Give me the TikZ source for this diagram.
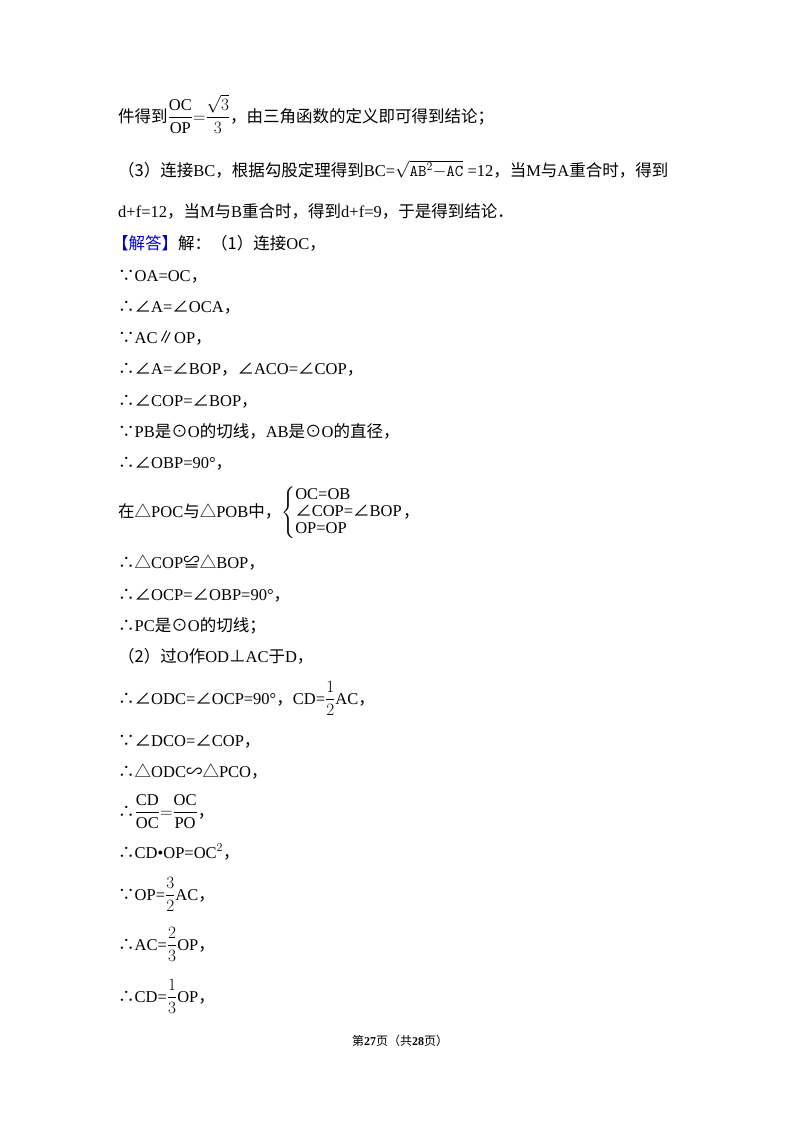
\documentclass[tikz,border=0pt]{standalone}
\usepackage{fontspec}
\usepackage{amsmath}
\setmainfont{Liberation Serif}
\newfontfamily\cjk{Noto Sans CJK SC}
\newcommand\zh[1]{{\cjk #1}}
\newcommand\rmm[1]{\mathrm{#1}}
\begin{document}
\begin{tikzpicture}[x=1pt,y=-1pt,
  ln/.style={anchor=base west,inner sep=0pt,font=\fontsize{16.5}{19}\selectfont}]
\useasboundingbox[fill=white] (0,0) rectangle (800,1133);
\node[ln] (l1) at (118,122) {\zh{件得到}$\dfrac{\rmm{OC}}{\rmm{OP}}{=}\dfrac{\sqrt{3}}{3}$\zh{，由三角函数的定义即可得到结论；}};
\node[ln] (l2) at (118,176) {\zh{（3）连接}BC\zh{，根据勾股定理得到}BC=$\sqrt{\mathtt{AB}^2\mathtt{-AC}}$ =12\zh{，当}M\zh{与}A\zh{重合时，得到}};
\node[ln] (l3) at (118,217) {d+f=12\zh{，当}M\zh{与}B\zh{重合时，得到}d+f=9\zh{，于是得到结论．}};
\node[ln] (l4) at (112,249) {\textcolor{blue!80!black}{\zh{【解答】}}\zh{解：（1）连接}OC\zh{，}};
\node[ln] (l5) at (118,281) {\zh{∵}OA=OC\zh{，}};
\node[ln] (l6) at (118,312) {\zh{∴∠}A=\zh{∠}OCA\zh{，}};
\node[ln] (l7) at (118,343) {\zh{∵}AC\zh{∥}OP\zh{，}};
\node[ln] (l8) at (118,374) {\zh{∴∠}A=\zh{∠}BOP\zh{，∠}ACO=\zh{∠}COP\zh{，}};
\node[ln] (l9) at (118,406) {\zh{∴∠}COP=\zh{∠}BOP\zh{，}};
\node[ln] (l10) at (118,437) {\zh{∵}PB\zh{是⊙}O\zh{的切线，}AB\zh{是⊙}O\zh{的直径，}};
\node[ln] (l11) at (118,468) {\zh{∴∠}OBP=90°\zh{，}};
\node[ln] (l12) at (118,517) {\zh{在△}POC\zh{与△}POB\zh{中，}$\left\{\begin{array}{@{}l@{}}\text{OC=OB}\\[-2pt] \text{\zh{∠}COP=\zh{∠}BOP}\\[-2pt] \text{OP=OP}\end{array}\right.$\zh{，}};
\node[ln] (l13) at (118,568) {\zh{∴△}COP\zh{≌△}BOP\zh{，}};
\node[ln] (l14) at (118,600) {\zh{∴∠}OCP=\zh{∠}OBP=90°\zh{，}};
\node[ln] (l15) at (118,631) {\zh{∴}PC\zh{是⊙}O\zh{的切线；}};
\node[ln] (l16) at (118,662) {\zh{（2）过}O\zh{作}OD\zh{⊥}AC\zh{于}D\zh{，}};
\node[ln] (l17) at (118,704) {\zh{∴∠}ODC=\zh{∠}OCP=90°\zh{，}CD=$\dfrac{1}{2}$AC\zh{，}};
\node[ln] (l18) at (118,746) {\zh{∵∠}DCO=\zh{∠}COP\zh{，}};
\node[ln] (l19) at (118,777) {\zh{∴△}ODC\zh{∽△}PCO\zh{，}};
\node[ln] (l20) at (118,817) {\zh{∴}$\dfrac{\rmm{CD}}{\rmm{OC}}{=}\dfrac{\rmm{OC}}{\rmm{PO}}$\zh{，}};
\node[ln] (l21) at (118,858) {\zh{∴}CD•OP=OC$^2$\zh{，}};
\node[ln] (l22) at (118,900) {\zh{∵}OP=$\dfrac{3}{2}$AC\zh{，}};
\node[ln] (l23) at (118,950) {\zh{∴}AC=$\dfrac{2}{3}$OP\zh{，}};
\node[ln] (l24) at (118,1002) {\zh{∴}CD=$\dfrac{1}{3}$OP\zh{，}};
\node[anchor=base,inner sep=0pt,font=\fontsize{12}{14}\selectfont] (ft) at (400,1045) {\zh{第}\textbf{27}\zh{页（共}\textbf{28}\zh{页）}};
\end{tikzpicture}
\end{document}
